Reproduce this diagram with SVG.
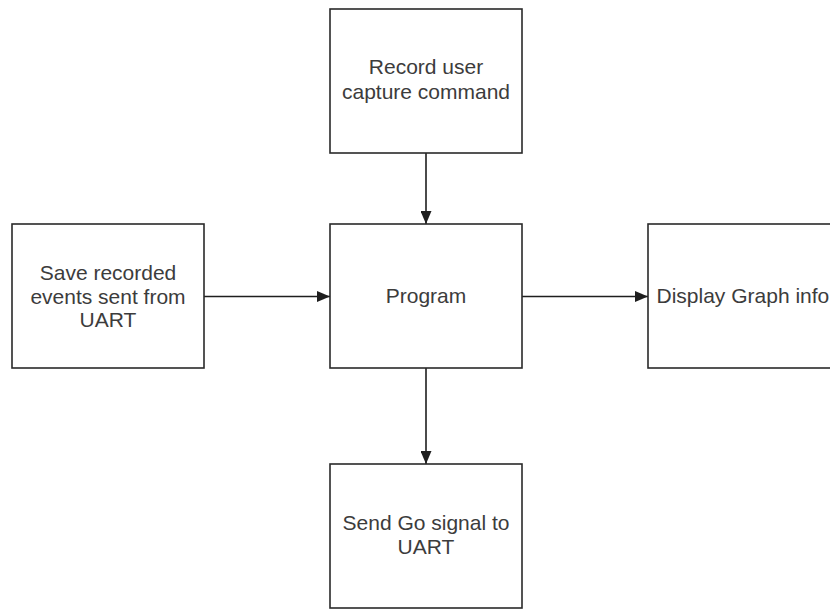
<svg xmlns="http://www.w3.org/2000/svg" width="830" height="609" viewBox="0 0 830 609">
  <style>
    .box { fill: #ffffff; stroke: #2a2a2a; stroke-width: 1.6; }
    .lbl { font-family: Arial, "Liberation Sans", Helvetica, sans-serif; font-size: 21px; fill: #3c3c3c; text-anchor: middle; }
    .edge { stroke: #1e1e1e; stroke-width: 1.6; fill: none; marker-end: url(#arrow); }
  </style>
  <defs>
    <marker id="arrow" viewBox="0 0 13 11" refX="13" refY="5.5" markerWidth="13" markerHeight="11" markerUnits="userSpaceOnUse" orient="auto">
      <path d="M0,0 L13,5.5 L0,11 Z" fill="#1e1e1e"/>
    </marker>
  </defs>
  <rect width="830" height="609" fill="#ffffff"/>

  <g id="connectors">
    <line class="edge" x1="426" y1="153" x2="426" y2="224"/>
    <line class="edge" x1="204" y1="296.5" x2="330" y2="296.5"/>
    <line class="edge" x1="522" y1="296.5" x2="648" y2="296.5"/>
    <line class="edge" x1="426" y1="368" x2="426" y2="464"/>
  </g>

  <g id="record">
    <rect class="box" x="330" y="9" width="192" height="144"/>
    <text class="lbl" x="426" y="74">Record user</text>
    <text class="lbl" x="426" y="99">capture command</text>
  </g>

  <g id="save">
    <rect class="box" x="12" y="224" width="192" height="144"/>
    <text class="lbl" x="108" y="280">Save recorded</text>
    <text class="lbl" x="108" y="304">events sent from</text>
    <text class="lbl" x="108" y="327">UART</text>
  </g>

  <g id="program">
    <rect class="box" x="330" y="224" width="192" height="144"/>
    <text class="lbl" x="426" y="303">Program</text>
  </g>

  <g id="display">
    <rect class="box" x="648" y="224" width="200" height="144"/>
    <text class="lbl" x="656.5" y="303" style="text-anchor:start">Display Graph info</text>
  </g>

  <g id="send">
    <rect class="box" x="330" y="464" width="192" height="144"/>
    <text class="lbl" x="426" y="530">Send Go signal to</text>
    <text class="lbl" x="426" y="554">UART</text>
  </g>
</svg>
